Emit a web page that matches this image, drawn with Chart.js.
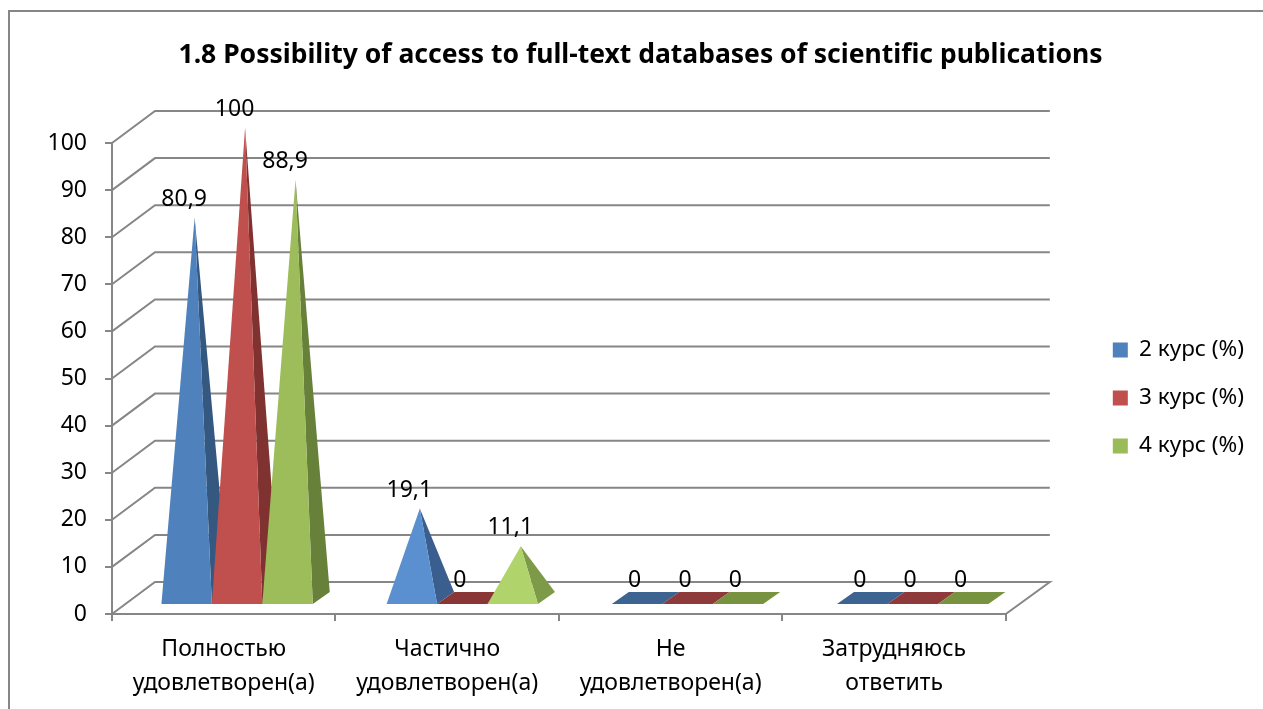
<!DOCTYPE html>
<html>
<head>
<meta charset="utf-8">
<title>1.8 Possibility of access</title>
<script src="https://cdn.jsdelivr.net/npm/chart.js@4"></script>
<style>
  html, body { margin: 0; padding: 0; background: #fff; overflow: hidden; width: 1263px; height: 709px; }
  #frame { position: absolute; left: 8px; top: 10px; width: 1300px; height: 800px; border-left: 2px solid #868686; border-top: 2px solid #868686; }
  canvas { position: absolute; left: 0; top: 1px; }
</style>
</head>
<body>
<div id="frame"><canvas id="grafico" width="1261" height="696"></canvas></div>
<script>
// dati
const categorie = [
  ["Полностью", "удовлетворен(а)"],
  ["Частично", "удовлетворен(а)"],
  ["Не", "удовлетворен(а)"],
  ["Затрудняюсь", "ответить"]
];
const etichetteSerie = ["2 курс (%)", "3 курс (%)", "4 курс (%)"];
const corso2 = [80.9, 19.1, 0, 0];
const corso3 = [100, 0, 0, 0];
const corso4 = [88.9, 11.1, 0, 0];
const titolo = "1.8 Possibility of access to full-text databases of scientific publications";

// colori delle facce
const coloriLegenda = ["#4f81bd", "#c0504d", "#9bbb59"];
const facceFronte = [
  ["#4f81bd", "#5a8fd0", "#4f81bd", "#4f81bd"],
  ["#c0504d", "#c0504d", "#c0504d", "#c0504d"],
  ["#9dbc5a", "#b0d46b", "#9bbb59", "#9bbb59"]
];
const facceLato = [
  ["#34587f", "#3a5f8f", "#3d6491", "#3d6491"],
  ["#7f3230", "#8a3636", "#8e3a3a", "#8e3a3a"],
  ["#67803a", "#7d9a48", "#77933f", "#77933f"]
];

const FONT = "'Noto Sans', sans-serif";
const GRIGIO = "#868686";
// finta prospettiva: quanto la parete di fondo e' spostata rispetto agli assi
const FONDO_X = 43, FONDO_Y = 32;
const BASE_FRONTE = 10, BASE_RETRO = 22, BASE_X = 17, PUNTA_X = 8, PUNTA_Y = 15.5;
const SCALA_X = 1.0078, SPOSTA_X = 11.7;

// Piramidi al posto delle barre: le posizioni arrivano dagli elementi e dalle scale.
class PiramideController extends Chart.BarController {
  draw() {
    // Chart.js parte dall'ultimo dataset; qui servono da sinistra a destra
    if (this.index !== 0) return;
    const chart = this.chart;
    const ctx = chart.ctx;
    const y = chart.scales.y;
    const y0 = y.getPixelForValue(0);
    const etichette = [];

    chart.data.datasets.forEach(function (ds, d) {
      chart.getDatasetMeta(d).data.forEach(function (barra, i) {
        const v = ds.data[i];
        const cx = barra.x * SCALA_X + SPOSTA_X;
        const m = barra.width / 2 + 0.2;
        const fronte = y0 - BASE_FRONTE;
        const retro = y0 - BASE_RETRO;
        const puntaX = cx + PUNTA_X;
        const puntaY = y.getPixelForValue(v) - PUNTA_Y;

        if (v === 0) {
          ctx.fillStyle = facceLato[d][i];
          ctx.beginPath();
          ctx.moveTo(cx - m, fronte);
          ctx.lineTo(cx + m, fronte);
          ctx.lineTo(cx + m + BASE_X, retro);
          ctx.lineTo(cx - m + BASE_X, retro);
          ctx.closePath();
          ctx.fill();
        } else {
          ctx.fillStyle = facceLato[d][i];
          ctx.beginPath();
          ctx.moveTo(cx + m, fronte);
          ctx.lineTo(cx + m + BASE_X, retro);
          ctx.lineTo(puntaX, puntaY);
          ctx.closePath();
          ctx.fill();

          ctx.fillStyle = facceFronte[d][i];
          ctx.beginPath();
          ctx.moveTo(cx - m, fronte);
          ctx.lineTo(cx + m, fronte);
          ctx.lineTo(puntaX, puntaY);
          ctx.closePath();
          ctx.fill();
        }
        etichette.push({ testo: String(v).replace(".", ","), x: puntaX - 10.5, y: puntaY - 18.5 });
      });
    });

    ctx.fillStyle = "#000";
    ctx.font = "23px " + FONT;
    ctx.textAlign = "center";
    ctx.textBaseline = "middle";
    etichette.forEach(function (e) { ctx.fillText(e.testo, e.x, e.y); });
  }
}
PiramideController.id = "piramide";
PiramideController.defaults = Chart.BarController.defaults;
PiramideController.overrides = Chart.BarController.overrides;
Chart.register(PiramideController);

const paretiPlugin = {
  id: "pareti",
  afterLayout(chart) {
    // la legenda nel riferimento sta piu' in basso del centro
    chart.legend.top += 37;
    chart.legend.bottom += 37;
  },
  beforeDatasetsDraw(chart) {
    const ctx = chart.ctx;
    const area = chart.chartArea;
    const y = chart.scales.y;
    ctx.save();
    ctx.strokeStyle = GRIGIO;
    ctx.lineWidth = 2;
    y.ticks.forEach(function (t) {
      const py = y.getPixelForValue(t.value);
      ctx.beginPath();
      ctx.moveTo(area.left, py);
      ctx.lineTo(area.left + FONDO_X, py - FONDO_Y);
      ctx.lineTo(area.right + FONDO_X + 1, py - FONDO_Y);
      if (t.value === 0) ctx.lineTo(area.right, py);
      ctx.stroke();
    });
    ctx.restore();
  }
};

new Chart(document.getElementById("grafico"), {
  type: "piramide",
  data: {
    labels: categorie,
    datasets: [
      { label: etichetteSerie[0], data: corso2, backgroundColor: coloriLegenda[0], borderWidth: 0, clip: false },
      { label: etichetteSerie[1], data: corso3, backgroundColor: coloriLegenda[1], borderWidth: 0, clip: false },
      { label: etichetteSerie[2], data: corso4, backgroundColor: coloriLegenda[2], borderWidth: 0, clip: false }
    ]
  },
  plugins: [paretiPlugin],
  options: {
    responsive: false,
    animation: false,
    categoryPercentage: 0.672,
    barPercentage: 1,
    layout: { padding: { left: 17, right: 17, top: 0, bottom: 0 } },
    scales: {
      x: {
        type: "category",
        offset: true,
        grid: { drawOnChartArea: false, color: GRIGIO, lineWidth: 2, tickLength: 7, offset: true },
        border: { color: GRIGIO, width: 2 },
        ticks: { color: "#000", font: { family: FONT, size: 23, lineHeight: 1.45 }, padding: 12, maxRotation: 0, autoSkip: false },
        afterFit(s) { s.height = 95; }
      },
      y: {
        type: "linear",
        min: 0,
        max: 100,
        grid: { drawOnChartArea: false, color: GRIGIO, lineWidth: 2, tickLength: 7 },
        border: { color: GRIGIO, width: 2 },
        ticks: { stepSize: 10, color: "#000", font: { family: FONT, size: 23 }, padding: 18 },
        afterFit(s) { s.width = 85; }
      },
      margine: {
        // solo spazio fra l'area del grafico e la legenda
        type: "linear",
        position: "right",
        grid: { display: false },
        border: { display: false },
        ticks: { display: false },
        afterFit(s) { s.width = 81.5; }
      }
    },
    plugins: {
      title: {
        display: true,
        text: titolo,
        color: "#000",
        font: { family: FONT, size: 26.5, weight: "bold", lineHeight: 1.2 },
        padding: { top: 27, bottom: 71.2 }
      },
      legend: {
        position: "right",
        labels: { boxWidth: 15, boxHeight: 15, padding: 25.5, color: "#000", font: { family: FONT, size: 22.5 } }
      },
      tooltip: { enabled: false }
    }
  }
});
</script>
</body>
</html>
